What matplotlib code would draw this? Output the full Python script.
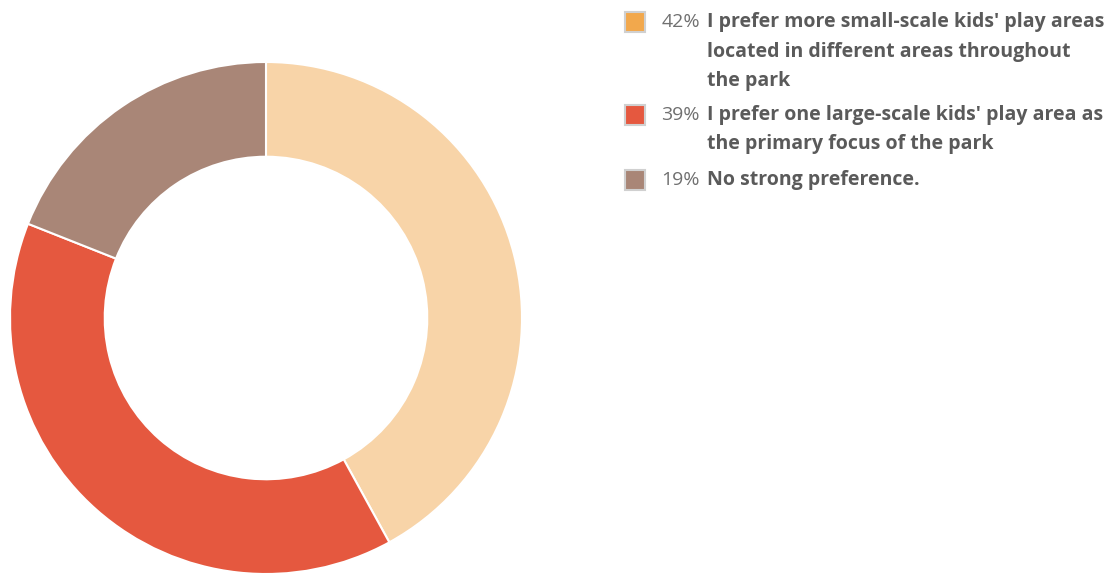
import matplotlib.pyplot as plt
from matplotlib.patches import Rectangle

# data
shares = [42, 39, 19]
labels = ["I prefer more small-scale kids' play areas\nlocated in different areas throughout\nthe park",
          "I prefer one large-scale kids' play area as\nthe primary focus of the park",
          "No strong preference."]
slice_colors = ['#f8d4a8', '#e5583f', '#a98677']
legend_colors = ['#f2a84c', '#e5583f', '#a98677']

W, H = 1120, 573
fig = plt.figure(figsize=(W / 100, H / 100), dpi=100)

# donut
cx, cy, r = 266, 318, 256
ax = fig.add_axes([(cx - r) / W, (H - cy - r) / H, 2 * r / W, 2 * r / H])
ax.pie(shares, colors=slice_colors, startangle=90, counterclock=False,
       radius=1, wedgeprops=dict(width=0.37, edgecolor='white', linewidth=1.5))
ax.set_xlim(-1, 1)
ax.set_ylim(-1, 1)
ax.set_aspect('equal')
ax.axis('off')

# legend, drawn by hand
row_y = [22, 115, 180]
line_h = 29.5
for pct, lab, col, y in zip(shares, labels, legend_colors, row_y):
    fig.patches.append(Rectangle(((625) / W, (H - y - 10) / H), 20 / W, 20 / H,
                                 transform=fig.transFigure, facecolor=col,
                                 edgecolor='#d0d0d0', linewidth=1.5))
    fig.text(700 / W, (H - y) / H, f"{pct}%", fontsize=14, family='Open Sans',
             color='#707070', va='center', ha='right')
    for i, line in enumerate(lab.split('\n')):
        fig.text(707 / W, (H - y - i * line_h) / H, line, fontsize=14,
                 family='Open Sans', fontweight='bold', color='#5a5a5a',
                 va='center', ha='left')

fig.savefig('out.png', dpi=100)
